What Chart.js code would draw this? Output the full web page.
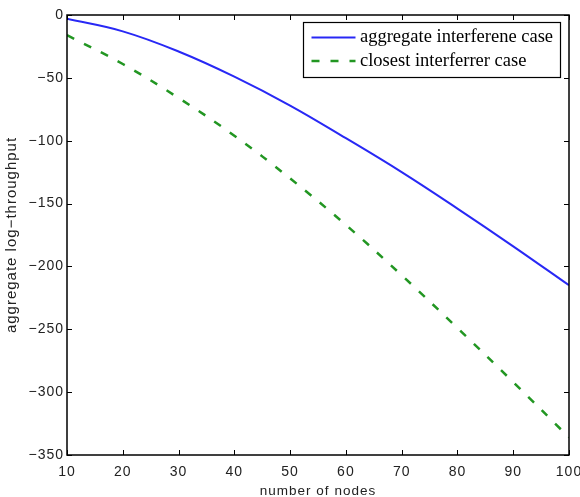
<!DOCTYPE html>
<html>
<head>
<meta charset="utf-8">
<script src="https://cdn.jsdelivr.net/npm/chart.js@4/dist/chart.umd.min.js"></script>
<style>
  html, body { margin: 0; padding: 0; background: #fff; }
  canvas { display: block; }
</style>
</head>
<body>
<canvas id="chart" width="580" height="497"></canvas>
<script>
// values
const nodes = [10, 20, 30, 40, 50, 60, 70, 80, 90, 100];
const aggregateCase = [-3, -13, -29, -49, -72, -98, -125, -154, -184, -215];
const closestCase = [-16, -39, -66, -96, -130, -167, -207, -249, -292, -336];
const seriesLabels = ['aggregate interferene case', 'closest interferrer case'];
const xTicks = [10, 20, 30, 40, 50, 60, 70, 80, 90, 100];
const yTicks = [0, -50, -100, -150, -200, -250, -300, -350];

const minus = v => String(v).replace('-', '\u2212');

// wider text spacing, like the original bitmap
const spacing = {
  id: 'spacing',
  beforeLayout(chart) { chart.ctx.letterSpacing = '1px'; },
  beforeDraw(chart) { chart.ctx.letterSpacing = '1px'; }
};

// matlab style box with inward ticks
const boxTicks = {
  id: 'boxTicks',
  afterDraw(chart) {
    const { ctx, chartArea: a, scales } = chart;
    const len = 5;
    ctx.save();
    ctx.strokeStyle = '#000';
    ctx.lineWidth = 1.5;
    ctx.strokeRect(a.left, a.top, a.right - a.left, a.bottom - a.top);
    ctx.lineWidth = 1;
    ctx.beginPath();
    xTicks.forEach(v => {
      const px = Math.round(scales.x.getPixelForValue(v)) + 0.5;
      ctx.moveTo(px, a.bottom); ctx.lineTo(px, a.bottom - len);
      ctx.moveTo(px, a.top); ctx.lineTo(px, a.top + len);
    });
    yTicks.forEach(v => {
      const py = Math.round(scales.y.getPixelForValue(v)) + 0.5;
      ctx.moveTo(a.left, py); ctx.lineTo(a.left + len, py);
      ctx.moveTo(a.right, py); ctx.lineTo(a.right - len, py);
    });
    ctx.stroke();
    ctx.restore();
  }
};

// legend box in the upper right corner
const cornerLegend = {
  id: 'cornerLegend',
  afterDraw(chart) {
    const ctx = chart.ctx;
    const x0 = 303.5, y0 = 22.5, w = 257, h = 55;
    ctx.save();
    ctx.letterSpacing = '0px';
    ctx.fillStyle = '#fff';
    ctx.fillRect(x0, y0, w, h);
    ctx.strokeStyle = '#000';
    ctx.lineWidth = 1.2;
    ctx.strokeRect(x0, y0, w, h);
    ctx.font = '18.5px "Liberation Serif", "Times New Roman", serif';
    ctx.textBaseline = 'middle';
    ctx.fillStyle = '#000';
    chart.data.datasets.forEach((ds, i) => {
      const y = 37.5 + i * 23.5;
      ctx.strokeStyle = ds.borderColor;
      ctx.lineWidth = ds.borderWidth;
      ctx.setLineDash(ds.borderDash || []);
      ctx.beginPath();
      ctx.moveTo(311.5, y); ctx.lineTo(355.5, y);
      ctx.stroke();
      ctx.setLineDash([]);
      ctx.fillText(ds.label, 360, y);
    });
    ctx.restore();
  }
};

new Chart(document.getElementById('chart'), {
  type: 'line',
  data: {
    datasets: [{
      label: seriesLabels[0],
      data: nodes.map((n, i) => ({ x: n, y: aggregateCase[i] })),
      borderColor: 'rgb(40, 40, 245)',
      borderWidth: 2,
      pointRadius: 0,
      tension: 0.4
    }, {
      label: seriesLabels[1],
      data: nodes.map((n, i) => ({ x: n, y: closestCase[i] })),
      borderColor: 'rgb(34, 150, 34)',
      borderWidth: 2.5,
      borderDash: [8, 11],
      pointRadius: 0,
      tension: 0.4
    }]
  },
  options: {
    responsive: false,
    animation: false,
    devicePixelRatio: 1,
    layout: { padding: { top: 15, right: 11, left: 0, bottom: 0 } },
    plugins: { legend: { display: false }, tooltip: { enabled: false } },
    scales: {
      x: {
        type: 'linear',
        min: 10, max: 100,
        afterFit(scale) {
          scale.height = 42;
          scale.paddingLeft = 0;
          scale.paddingRight = 0;
        },
        afterBuildTicks(scale) { scale.ticks = xTicks.map(v => ({ value: v })); },
        grid: { display: false, drawTicks: false },
        border: { display: false },
        ticks: {
          autoSkip: false,
          padding: 9,
          color: '#222',
          font: { family: '"Liberation Sans", Arial, sans-serif', size: 14 },
          maxRotation: 0,
          callback: v => minus(v)
        },
        title: {
          display: true,
          text: 'number of nodes',
          color: '#222',
          padding: { top: 0, bottom: -2 },
          font: { family: '"Liberation Sans", Arial, sans-serif', size: 13.5 }
        }
      },
      y: {
        min: -350, max: 0,
        afterFit(scale) {
          scale.width = 67;
          scale.paddingTop = 0;
          scale.paddingBottom = 0;
        },
        afterBuildTicks(scale) { scale.ticks = yTicks.map(v => ({ value: v })); },
        grid: { display: false, drawTicks: false },
        border: { display: false },
        ticks: {
          autoSkip: false,
          padding: 3,
          color: '#222',
          font: { family: '"Liberation Sans", Arial, sans-serif', size: 14 },
          callback: v => minus(v)
        },
        title: {
          display: true,
          text: 'aggregate log\u2212throughput',
          color: '#222',
          padding: { top: 3, bottom: 0 },
          font: { family: '"Liberation Sans", Arial, sans-serif', size: 15 }
        }
      }
    }
  },
  plugins: [spacing, boxTicks, cornerLegend]
});
</script>
</body>
</html>
